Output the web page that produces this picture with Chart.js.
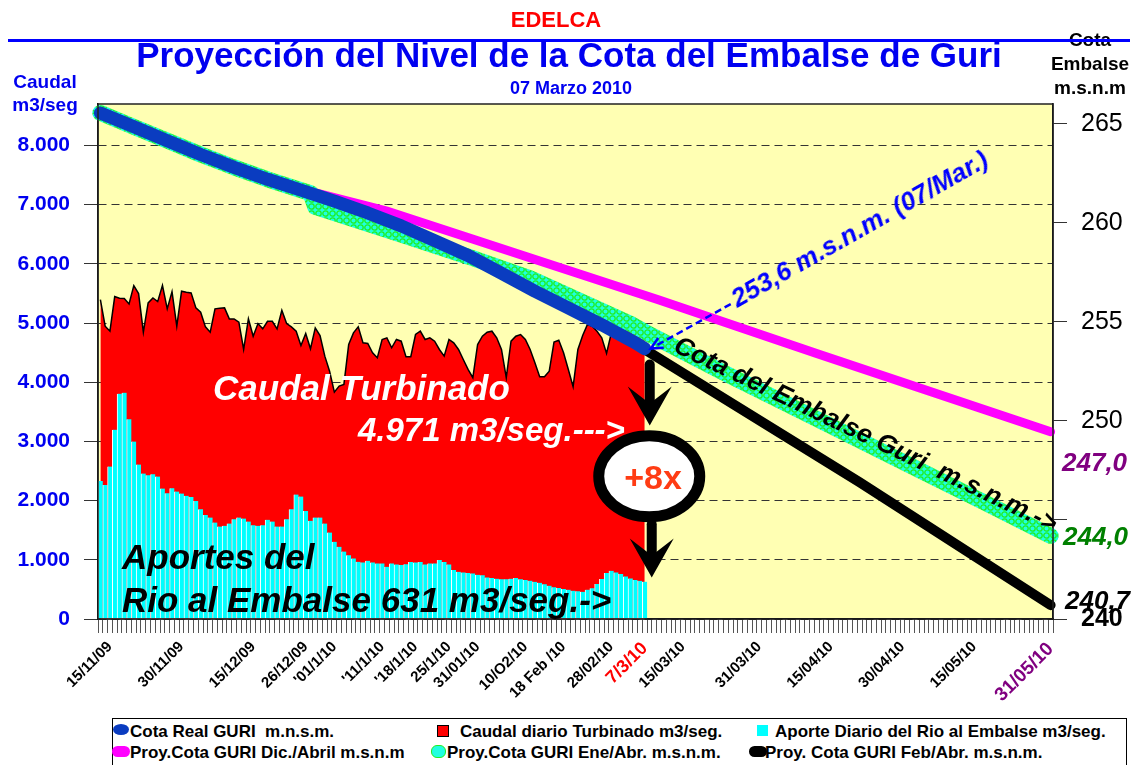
<!DOCTYPE html>
<html>
<head>
<meta charset="utf-8">
<title>Proyección del Nivel de la Cota del Embalse de Guri</title>
<script src="https://cdn.jsdelivr.net/npm/chart.js@4.4.1/dist/chart.umd.min.js"></script>
<style>
  body { margin: 0; background: #fff; }
  #wrap { position: relative; width: 1137px; height: 765px; overflow: hidden; font-family: "Liberation Sans", Arial, sans-serif; }
  #grafico { position: absolute; left: 0; top: 0; }
  .t { position: absolute; white-space: nowrap; line-height: 1; font-weight: bold; pointer-events: none; }
  .c { transform: translateX(-50%); text-align: center; }
  .i { font-style: italic; }
  #raya { position: absolute; left: 8px; top: 39px; width: 1122px; height: 3px; background: #0000ff; }
  #leyenda { position: absolute; left: 112px; top: 718px; width: 1013px; height: 60px; border: 1px solid #000; background: #fff; }
  .ley { position: absolute; font-size: 17px; font-weight: bold; line-height: 1; white-space: nowrap; color: #000; }
  .mk { position: absolute; }
</style>
</head>
<body>
<div id="wrap">
  <canvas id="grafico" width="1137" height="765"></canvas>

  <div class="t c" style="left:556px; top:9px; font-size:22px; color:#ff0000;">EDELCA</div>
  <div class="t c" style="left:1090px; top:28px; font-size:19px; line-height:24px; color:#000;">Cota<br>Embalse<br>m.s.n.m</div>
  <div id="raya"></div>
  <div class="t c" style="left:569px; top:37px; font-size:35px; color:#0000f0;">Proyección del Nivel de la Cota del Embalse de Guri</div>
  <div class="t c" style="left:571px; top:79px; font-size:18px; color:#0000f0;">07 Marzo 2010</div>
  <div class="t c" style="left:45px; top:70px; font-size:19px; line-height:23px; color:#0000f0;">Caudal<br>m3/seg</div>

  <div class="t i" style="left:213px; top:370px; font-size:35px; color:#fff;">Caudal Turbinado</div>
  <div class="t i" style="left:358px; top:413px; font-size:33px; color:#fff;">4.971 m3/seg.---&gt;</div>
  <div class="t i" style="left:122px; top:539px; font-size:35px; color:#000;">Aportes del</div>
  <div class="t i" style="left:122px; top:582px; font-size:35px; color:#000;">Rio al Embalse 631 m3/seg.-&gt;</div>

  <div class="t i" style="left:733px; top:287px; font-size:26px; color:#0000ff; transform-origin:0 50%; transform:rotate(-29.5deg);">253,6 m.s.n.m. (07/Mar.)</div>
  <div class="t i" style="left:676px; top:330px; font-size:26px; color:#000; transform-origin:0 50%; transform:rotate(25.5deg);">Cota del Embalse Guri&nbsp; m.s.n.m.-&gt;</div>

  <div class="t c" style="left:653px; top:460px; font-size:34px; color:#ff3c14;">+8x</div>

  <div class="t i" style="left:1062px; top:449px; font-size:26px; color:#800080;">247,0</div>
  <div class="t i" style="left:1063px; top:523px; font-size:26px; color:#008000;">244,0</div>
  <div class="t i" style="left:1065px; top:587px; font-size:26px; color:#000;">240,7</div>

  <div id="leyenda"></div>
  <span class="mk" style="left:113px; top:724px; width:16px; height:11px; border-radius:50%; background:#0a3cc0;"></span>
  <span class="ley" style="left:130px; top:723px;">Cota Real GURI&nbsp; m.n.s.m.</span>
  <span class="mk" style="left:437px; top:725px; width:10px; height:10px; background:#ff0000; border:1px solid #000;"></span>
  <span class="ley" style="left:460px; top:723px;">Caudal diario Turbinado m3/seg.</span>
  <span class="mk" style="left:757px; top:725px; width:11px; height:11px; background:#00ffff;"></span>
  <span class="ley" style="left:775px; top:723px;">Aporte Diario del Rio al Embalse m3/seg.</span>
  <span class="mk" style="left:112px; top:746px; width:18px; height:11px; border-radius:6px; background:#ff00ff;"></span>
  <span class="ley" style="left:130px; top:744px;">Proy.Cota GURI Dic./Abril m.s.n.m</span>
  <span class="mk" style="left:431px; top:745px; width:13px; height:11px; border-radius:6px; background:#20ffe0; border:1px solid #22ee22;"></span>
  <span class="ley" style="left:447px; top:744px;">Proy.Cota GURI Ene/Abr. m.s.n.m.</span>
  <span class="mk" style="left:749px; top:746px; width:18px; height:11px; border-radius:6px; background:#000;"></span>
  <span class="ley" style="left:765px; top:744px;">Proy. Cota GURI Feb/Abr. m.s.n.m.</span>
</div>

<script>
// Caudal diario turbinado (m3/seg), desde 13/11/09 hasta 07/03/10
const caudalTurbinado = [
  5396, 4946, 4862, 5447, 5418, 5413, 5323, 5632, 5497, 4845,
  5340, 5424, 5362, 5638, 5239, 5531, 4946, 5537, 5520, 5509,
  5256, 5183, 4935, 4845, 5239, 5250, 5256, 5070, 5070, 5014,
  4553, 5070, 4777, 4991, 4902, 5030, 5030, 4902, 5216, 4991,
  4935, 4862, 4621, 4823, 4565, 4918, 4789, 4440, 4187, 3833,
  3935, 3963, 4637, 4834, 4935, 4665, 4654, 4497, 4413, 4722,
  4750, 4582, 4722, 4693, 4430, 4430, 4806, 4862, 4722, 4750,
  4693, 4553, 4440, 4722, 4665, 4553, 4384, 4216, 4076, 4637,
  4777, 4845, 4862, 4750, 4553, 4076, 4693, 4777, 4806, 4722,
  4553, 4328, 4091, 4091, 4187, 4677, 4710, 4497, 4216, 3924,
  4553, 4789, 4975, 4946, 4862, 4750, 4486, 4834, 4900, 4950,
  4980, 5000, 4960, 4940, 4971
];

// Aporte diario del rio al embalse (m3/seg)
const aporteRio = [
  2333, 2265, 2575, 3199, 3806, 3823, 3373, 2997, 2609, 2457,
  2428, 2445, 2406, 2204, 2125, 2209, 2153, 2119, 2080, 2063,
  1995, 1855, 1759, 1715, 1630, 1563, 1574, 1613, 1686, 1715,
  1698, 1647, 1585, 1574, 1585, 1675, 1647, 1563, 1563, 1686,
  1855, 2102, 2069, 1826, 1658, 1715, 1715, 1613, 1461, 1304,
  1220, 1141, 1079, 1023, 967, 956, 984, 956, 939, 939,
  882, 939, 922, 911, 927, 962, 956, 962, 922, 939,
  939, 995, 962, 922, 826, 798, 787, 776, 770, 748,
  737, 703, 692, 681, 670, 670, 681, 692, 670, 658,
  647, 630, 613, 585, 563, 535, 523, 507, 495, 478,
  470, 461, 495, 518, 590, 675, 776, 815, 787, 759,
  720, 686, 658, 646, 631
];

// Cota real y proyecciones (m.s.n.m.)
const cotaReal = [
  { x: '13/11/09', y: 265.55 }, { x: '20/11/09', y: 264.85 }, { x: '27/11/09', y: 264.15 },
  { x: '04/12/09', y: 263.45 }, { x: '11/12/09', y: 262.8 }, { x: '18/12/09', y: 262.2 },
  { x: '25/12/09', y: 261.65 }, { x: '01/01/10', y: 261.1 }, { x: '08/01/10', y: 260.5 },
  { x: '15/01/10', y: 259.85 }, { x: '22/01/10', y: 259.1 }, { x: '29/01/10', y: 258.35 },
  { x: '05/02/10', y: 257.45 }, { x: '12/02/10', y: 256.55 }, { x: '19/02/10', y: 255.7 },
  { x: '26/02/10', y: 254.85 }, { x: '05/03/10', y: 253.95 }, { x: '07/03/10', y: 253.65 }
];
const proyDicAbril = [
  { x: '13/11/09', y: 265.45 }, { x: '04/12/09', y: 263.3 }, { x: '25/12/09', y: 261.7 },
  { x: '12/01/10', y: 260.6 }, { x: '10/03/10', y: 256.1 }, { x: '12/04/10', y: 253.4 },
  { x: '31/05/10', y: 249.45 }
];
const proyEneAbr = [
  { x: '13/11/09', y: 265.55 }, { x: '20/11/09', y: 264.85 }, { x: '27/11/09', y: 264.15 },
  { x: '04/12/09', y: 263.45 }, { x: '11/12/09', y: 262.8 }, { x: '18/12/09', y: 262.2 },
  { x: '25/12/09', y: 261.65 }, { x: '27/12/09', y: 261.5 }, { x: '28/12/09', y: 260.8 },
  { x: '15/01/10', y: 259.4 }, { x: '29/01/10', y: 258.3 }, { x: '11/02/10', y: 257.2 },
  { x: '04/03/10', y: 254.9 }, { x: '07/03/10', y: 254.5 }, { x: '23/03/10', y: 252.5 },
  { x: '12/04/10', y: 250.1 }, { x: '02/05/10', y: 247.7 }, { x: '17/05/10', y: 245.9 },
  { x: '31/05/10', y: 244.2 }
];
const proyFebAbr = [
  { x: '07/03/10', y: 253.6 }, { x: '21/04/10', y: 246.9 }, { x: '31/05/10', y: 240.7 }
];

// Marcas de los ejes
const ticksCaudal = [0, 1000, 2000, 3000, 4000, 5000, 6000, 7000, 8000];
const ticksCota = [240, 245, 250, 255, 260, 265];
const tickTexto = {
  '15/11/09': '15/11/09', '30/11/09': '30/11/09', '15/12/09': '15/12/09', '26/12/09': '26/12/09',
  '01/01/10': "'01/1/10", '11/01/10': "'11/1/10", '18/01/10': "'18/1/10", '25/01/10': '25/1/10',
  '31/01/10': '31/01/10', '10/02/10': '10/O2/10', '18/02/10': '18 Feb /10', '28/02/10': '28/02/10',
  '07/03/10': '7/3/10', '15/03/10': '15/03/10', '31/03/10': '31/03/10', '15/04/10': '15/04/10',
  '30/04/10': '30/04/10', '15/05/10': '15/05/10', '31/05/10': '31/05/10'
};

// un dia por categoria
const dias = [];
for (let d = new Date(2009, 10, 13); d <= new Date(2010, 4, 31); d.setDate(d.getDate() + 1)) {
  dias.push(`${String(d.getDate()).padStart(2, '0')}/${String(d.getMonth() + 1).padStart(2, '0')}/${String(d.getFullYear()).slice(2)}`);
}
const iHoy = dias.indexOf('07/03/10');
const iFin = dias.indexOf('31/05/10');

Chart.defaults.font.family = '"Liberation Sans", Arial, sans-serif';
Chart.defaults.animation = false;

const canvas = document.getElementById('grafico');
const ctx = canvas.getContext('2d');

// textura de la banda verde (circulos verdes sobre cian)
const tex = document.createElement('canvas');
tex.width = 7; tex.height = 7;
const tc = tex.getContext('2d');
tc.fillStyle = '#20ffe0';
tc.fillRect(0, 0, 7, 7);
tc.strokeStyle = '#22ee22';
tc.lineWidth = 1.3;
tc.beginPath();
tc.arc(3.5, 3.5, 2.7, 0, Math.PI * 2);
tc.stroke();
const verdeCian = ctx.createPattern(tex, 'repeat');

function miles(v) {
  return v === 0 ? '0' : String(v).replace(/\B(?=(\d{3})+(?!\d))/g, '.');
}

function flecha(c, x, y0, tip) {
  c.strokeStyle = '#000';
  c.fillStyle = '#000';
  c.lineWidth = 10;
  c.lineCap = 'round';
  c.beginPath();
  c.moveTo(x, y0);
  c.lineTo(x, tip - 22);
  c.stroke();
  c.beginPath();
  c.moveTo(x, tip);
  c.lineTo(x - 22, tip - 39);
  c.lineTo(x, tip - 22);
  c.lineTo(x + 22, tip - 39);
  c.closePath();
  c.fill();
}

const marco = {
  id: 'marco',
  beforeDraw(chart) {
    const a = chart.chartArea;
    const c = chart.ctx;
    c.save();
    c.fillStyle = '#ffffb3';
    c.fillRect(a.left, a.top, a.right - a.left, a.bottom - a.top);
    c.restore();
  },
  afterDatasetsDraw(chart) {
    const c = chart.ctx;
    const xs = chart.scales.x, yl = chart.scales.y, yr = chart.scales.y1;
    const xh = xs.getPixelForValue(iHoy);
    c.save();

    // flecha discontinua hacia la cota del 07/Mar
    const tx = xh + 6, ty = yr.getPixelForValue(253.6) - 1;
    const sx = xh + 86, sy = yr.getPixelForValue(255.9);
    c.strokeStyle = '#0000ff';
    c.lineWidth = 2.5;
    c.setLineDash([7, 4]);
    c.beginPath();
    c.moveTo(sx, sy);
    c.lineTo(tx, ty);
    c.stroke();
    c.setLineDash([]);
    const ang = Math.atan2(sy - ty, sx - tx);
    c.beginPath();
    c.moveTo(tx + 13 * Math.cos(ang - 0.45), ty + 13 * Math.sin(ang - 0.45));
    c.lineTo(tx, ty);
    c.lineTo(tx + 13 * Math.cos(ang + 0.45), ty + 13 * Math.sin(ang + 0.45));
    c.stroke();

    // flechas y elipse "+8x"
    flecha(c, xh + 5, yl.getPixelForValue(4300), yl.getPixelForValue(3270));
    c.beginPath();
    c.ellipse(xh + 4.5, yl.getPixelForValue(2410), 50.5, 40.5, 0, 0, Math.PI * 2);
    c.fillStyle = '#fff';
    c.fill();
    c.lineWidth = 11;
    c.strokeStyle = '#000';
    c.stroke();
    flecha(c, xh + 7, yl.getPixelForValue(1600), yl.getPixelForValue(700));
    c.restore();
  },
  afterDraw(chart) {
    const a = chart.chartArea;
    const c = chart.ctx;
    c.save();
    c.strokeStyle = '#222';
    c.lineWidth = 1.5;
    c.strokeRect(a.left, a.top, a.right - a.left, a.bottom - a.top);
    c.restore();
  }
};

new Chart(canvas, {
  type: 'bar',
  data: {
    labels: dias,
    datasets: [
      {
        type: 'line', label: 'Cota Real GURI  m.n.s.m.', data: cotaReal, yAxisID: 'y1',
        borderColor: '#0a3cc0', borderWidth: 13, pointRadius: 0, borderCapStyle: 'round',
        borderJoinStyle: 'round', tension: 0, order: 1
      },
      {
        type: 'line', label: 'Proy.Cota GURI Ene/Abr. m.s.n.m.', data: proyEneAbr, yAxisID: 'y1',
        borderColor: verdeCian, borderWidth: 16, pointRadius: 0, borderCapStyle: 'round',
        borderJoinStyle: 'round', tension: 0, order: 2
      },
      {
        type: 'line', label: 'Proy.Cota GURI Dic./Abril m.s.n.m', data: proyDicAbril, yAxisID: 'y1',
        borderColor: '#ff00ff', borderWidth: 9, pointRadius: 0, borderCapStyle: 'round',
        tension: 0, order: 3
      },
      {
        type: 'line', label: 'Proy. Cota GURI Feb/Abr. m.s.n.m.', data: proyFebAbr, yAxisID: 'y1',
        borderColor: '#000', borderWidth: 10, pointRadius: 0, borderCapStyle: 'round',
        tension: 0, order: 4
      },
      {
        type: 'bar', label: 'Aporte Diario del Rio al Embalse m3/seg.', data: aporteRio, yAxisID: 'y',
        backgroundColor: '#00ffff', borderColor: '#ffffff', borderWidth: { left: 1, right: 0, top: 0, bottom: 0 },
        barPercentage: 1, categoryPercentage: 1, grouped: false, order: 8
      },
      {
        type: 'line', label: 'Caudal diario Turbinado m3/seg.', data: caudalTurbinado, yAxisID: 'y',
        fill: 'origin', backgroundColor: '#ff0000', borderColor: '#000', borderWidth: 1.5,
        pointRadius: 0, tension: 0, order: 9
      }
    ]
  },
  options: {
    responsive: false,
    layout: { padding: { top: 104, left: 0, right: 0, bottom: 0 } },
    plugins: { legend: { display: false }, tooltip: { enabled: false } },
    scales: {
      x: {
        type: 'category',
        offset: true,
        grid: { drawOnChartArea: false, drawTicks: true, tickLength: 14, tickColor: '#555', tickWidth: 1, tickBorderDash: [] },
        border: { color: '#000', width: 1.5 },
        ticks: {
          autoSkip: false,
          maxRotation: 45,
          minRotation: 45,
          padding: 5,
          callback: (v, i) => tickTexto[dias[i]] || '',
          color: c => c.index === iHoy ? '#ff0000' : (c.index === iFin ? '#800080' : '#000'),
          font: c => c.index === iHoy ? { size: 18, weight: 'bold' } : (c.index === iFin ? { size: 19, weight: 'bold' } : { size: 15, weight: 'bold' })
        },
        afterFit: s => { s.height = 146; }
      },
      y: {
        position: 'left',
        min: 0,
        max: 8700,
        afterBuildTicks: s => { s.ticks = ticksCaudal.map(v => ({ value: v })); },
        ticks: {
          padding: 14, color: '#0000f0',
          font: { size: 21, weight: 'bold' },
          callback: v => miles(v)
        },
        grid: { color: '#333', lineWidth: 1, tickLength: 14, tickColor: '#333', tickBorderDash: [] },
        border: { color: '#000', width: 1.5, dash: [8, 5] },
        afterFit: s => { s.width = 98; }
      },
      y1: {
        position: 'right',
        min: 240,
        max: 266,
        afterBuildTicks: s => { s.ticks = ticksCota.map(v => ({ value: v })); },
        ticks: {
          padding: 14, color: '#000',
          font: c => ({ size: 25, weight: c.tick && c.tick.value === 240 ? 'bold' : 'normal' }),
          callback: v => v === 245 ? '' : String(v)
        },
        grid: { drawOnChartArea: false, tickLength: 14, tickColor: '#333', tickBorderDash: [] },
        border: { color: '#000', width: 1.5 },
        afterFit: s => { s.width = 84; }
      }
    }
  },
  plugins: [marco]
});
</script>
</body>
</html>
